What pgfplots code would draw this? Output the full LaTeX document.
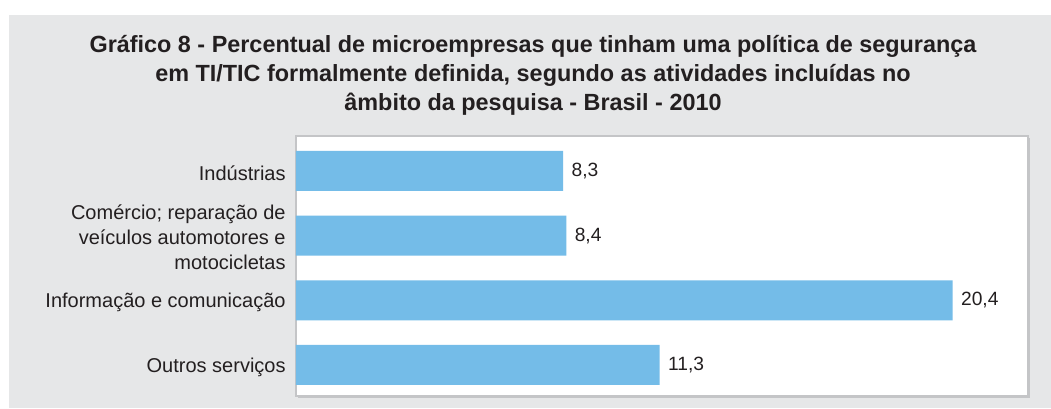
\documentclass[border=0pt]{standalone}
\usepackage{fontspec}
\setmainfont{Liberation Sans}
\usepackage{pgfplots}
\pgfplotsset{compat=1.18}
\definecolor{bg}{HTML}{E6E7E8}
\definecolor{barc}{HTML}{74BCE8}
\definecolor{txt}{HTML}{231F20}
\definecolor{frame}{HTML}{C4C5C7}
\begin{document}
\begin{tikzpicture}
\fill[white] (0pt,0pt) rectangle (525.5pt,204pt);
\fill[bg] (4.5pt,0pt) rectangle (525.5pt,196.5pt);
\begin{scope}[every node/.style={font=\fontsize{11.7}{14}\selectfont\bfseries, text=txt, anchor=base}]
\node at (266.5pt,177.5pt) {Gráfico 8 - Percentual de microempresas que tinham uma política de segurança};
\node at (266.5pt,163pt) {em TI/TIC formalmente definida, segundo as atividades incluídas no};
\node at (266.5pt,149pt) {âmbito da pesquisa - Brasil - 2010};
\end{scope}
\fill[frame] (149pt,5pt) rectangle (515pt,135pt);
\begin{axis}[
  at={(148pt,6pt)}, anchor=south west,
  scale only axis, width=366pt, height=130pt,
  xbar, bar width=20pt,
  xmin=0, xmax=22.74, ymin=-0.48, ymax=3.54,
  axis background/.style={fill=white},
  axis line style={draw=frame, line width=0.7pt},
  xtick=\empty, ytick={0,1,2,3}, major tick length=0pt,
  yticklabels={Outros serviços, Informação e comunicação, {Comércio; reparação de\\veículos automotores e\\motocicletas}, Indústrias},
  yticklabel style={align=right, font=\fontsize{10}{12.5}\selectfont, text=txt, inner sep=0pt, xshift=-5pt, yshift=-1pt},
  nodes near coords, nodes near coords align=horizontal,
  every node near coord/.append style={font=\fontsize{9.6}{11}\selectfont, text=txt, inner sep=0pt, xshift=4pt},
  /pgf/number format/.cd, use comma, fixed, fixed zerofill, precision=1, assume math mode=true,
]
\addplot[fill=barc, draw=none] coordinates {(11.3,0) (20.4,1) (8.4,2) (8.3,3)};
\end{axis}
\end{tikzpicture}
\end{document}
